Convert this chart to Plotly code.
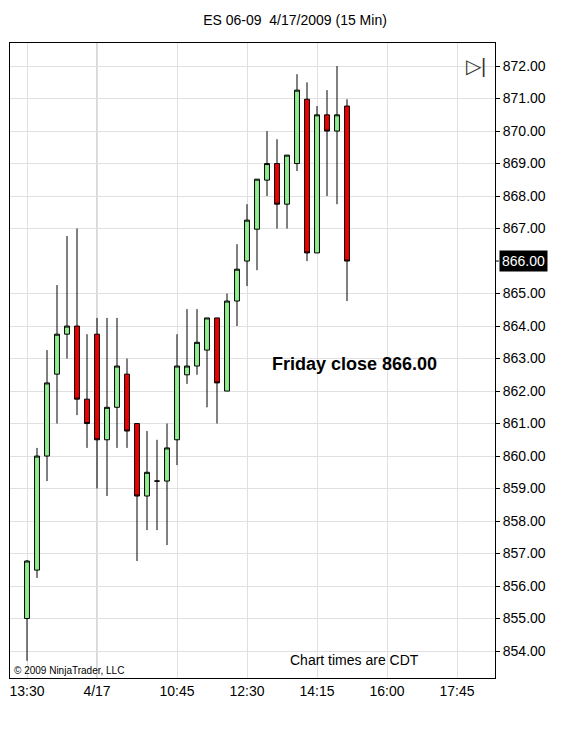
import plotly.graph_objects as go

opens  = [855.0,856.49,860.0,862.52,863.75,864.0,861.75,863.75,860.5,861.5,862.52,861.0,858.77,859.23,859.23,860.5,862.5,862.77,863.26,864.25,862.0,864.77,866.0,866.98,868.49,869.0,867.75,869.0,870.98,866.25,870.5,870.0,870.77]
highs  = [856.8,860.25,863.26,865.26,866.77,867.0,863.75,864.25,864.25,864.25,863.0,861.0,860.77,860.5,861.0,863.75,864.52,864.52,864.25,864.25,865.0,866.52,867.75,868.52,870.0,869.75,869.26,871.75,871.5,870.77,871.26,872.0,870.98]
lows   = [853.7,856.25,859.23,861.0,863.0,861.26,860.25,859.0,858.77,860.25,860.25,856.77,857.72,857.72,857.26,859.72,862.22,862.5,861.5,861.0,862.0,864.0,865.23,865.72,868.0,867.0,867.0,868.77,866.0,866.25,868.0,867.75,864.77]
closes = [856.77,860.0,862.25,863.75,864.0,861.75,861.0,860.5,861.5,862.77,860.77,858.77,859.5,859.23,860.25,862.77,862.77,863.5,864.25,862.25,864.77,865.75,867.26,868.52,869.0,867.75,869.26,871.26,866.25,870.5,870.0,870.5,866.0]
tick_pos = [0,7,15,22,29,36,43]
tick_labels = ["13:30","4/17","10:45","12:30","14:15","16:00","17:45"]
price_ticks = [v for v in range(854, 873) if v != 866]

idx = list(range(len(opens)))
fig = go.Figure(go.Candlestick(
    x=idx, open=opens, high=highs, low=lows, close=closes,
    increasing=dict(fillcolor="#90EE90", line=dict(color="black", width=1)),
    decreasing=dict(fillcolor="#EE0000", line=dict(color="black", width=1)),
    whiskerwidth=0, hoverinfo="skip"))

fig.update_layout(
    width=574, height=732, showlegend=False,
    paper_bgcolor="white", plot_bgcolor="white",
    margin=dict(l=2, r=87, t=35, b=62, pad=0),
    font=dict(family="Liberation Sans, Arial", size=14, color="black"),
    title=dict(text="ES 06-09  4/17/2009 (15 Min)", x=0.5, xanchor="center", y=0.983, yanchor="middle",
               font=dict(size=14), automargin=False),
    xaxis=dict(range=[-1.7, 46.8], tickvals=tick_pos, ticktext=tick_labels, showgrid=True,
               gridcolor="#E0E0E0", rangeslider=dict(visible=False), showline=True, linecolor="black",
               mirror=True, ticks="", zeroline=False, fixedrange=True, automargin=False),
    yaxis=dict(range=[853.17, 872.71], side="right", tickvals=price_ticks,
               ticktext=[f"{v:.2f}" for v in price_ticks], showgrid=True, gridcolor="#E0E0E0",
               showline=True, linecolor="black", mirror=True, ticks="outside", ticklen=4,
               tickcolor="black", zeroline=False, automargin=False),
)
fig.add_shape(type="line", xref="x", yref="paper", x0=7, x1=7, y0=0, y1=1, line=dict(color="#B0B0B0", width=1), layer="below")
fig.add_shape(type="line", xref="paper", yref="y", x0=1, x1=1.008, y0=866, y1=866, line=dict(color="black", width=1))
fig.add_annotation(x=1.008, y=closes[-1], xref="paper", yref="y", text=f"{closes[-1]:.2f}", showarrow=False,
                   xanchor="left", bgcolor="black", font=dict(color="white", size=14), borderpad=2)
fig.add_annotation(x=24.3, y=862.83, xref="x", yref="y", text="<b>Friday close 866.00</b>", showarrow=False,
                   xanchor="left", font=dict(size=18))
fig.add_annotation(x=0.71, y=0.012, xref="paper", yref="paper", text="Chart times are CDT", showarrow=False,
                   xanchor="center", yanchor="bottom", font=dict(size=14))
fig.add_annotation(x=0.005, y=0.0, xref="paper", yref="paper", text="© 2009 NinjaTrader, LLC", showarrow=False,
                   xanchor="left", yanchor="bottom", font=dict(size=10))
fig.add_annotation(x=0.985, y=0.985, xref="paper", yref="paper", text="▷|", showarrow=False,
                   xanchor="right", yanchor="top", font=dict(size=20, color="#333"))
fig.write_html("out.html")
